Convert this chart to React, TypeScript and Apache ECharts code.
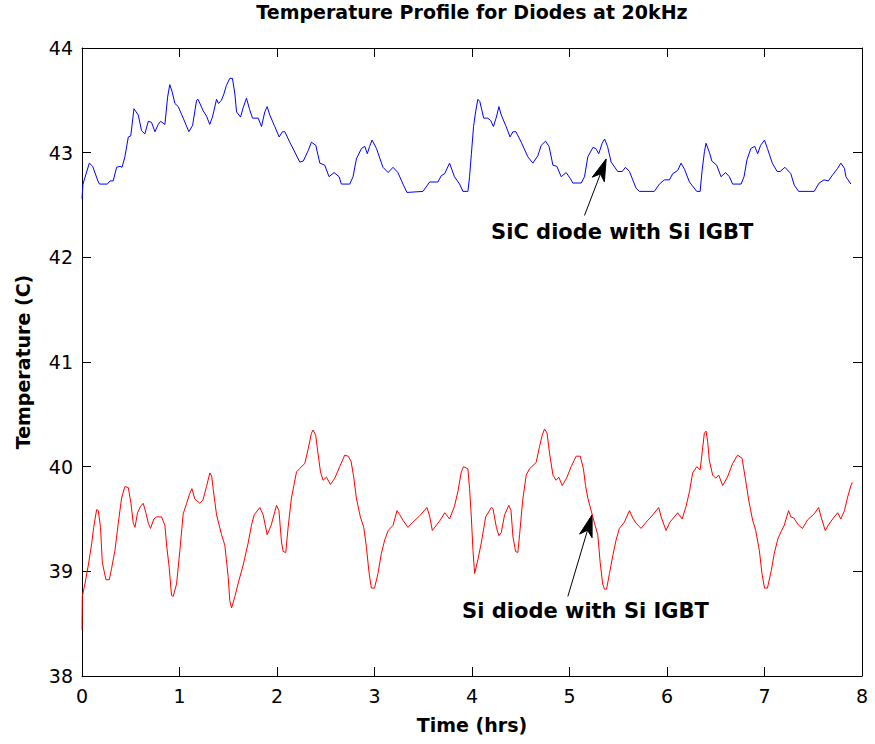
import React, { useEffect, useRef } from "react";
import * as echarts from "echarts";

const chartTitle = "Temperature Profile for Diodes at 20kHz";
const xAxisName = "Time (hrs)";
const yAxisName = "Temperature (C)";
const xMin = 0, xMax = 8, xStep = 1;
const yMin = 38, yMax = 44, yStep = 1;

const sicLabel = "SiC diode with Si IGBT";
const siLabel = "Si diode with Si IGBT";

// SiC diode (blue) series
const sicTime = [
  0, 0.01, 0.075, 0.109, 0.167, 0.18, 0.26, 0.287, 0.32, 0.355, 0.39, 0.41, 0.44, 0.475, 0.5, 0.533, 0.577, 0.611,
  0.645, 0.68, 0.713, 0.748, 0.782, 0.806, 0.85, 0.878, 0.9, 0.925, 0.953, 0.987, 1.038, 1.096, 1.134, 1.175, 1.19,
  1.243, 1.277, 1.31, 1.338, 1.38, 1.4, 1.43, 1.455, 1.48, 1.516, 1.543, 1.568, 1.585, 1.626, 1.653, 1.687, 1.72,
  1.749, 1.807, 1.841, 1.875, 1.899, 1.926, 1.977, 2.022, 2.056, 2.08, 2.131, 2.234, 2.27, 2.32, 2.353, 2.398, 2.439,
  2.49, 2.534, 2.585, 2.637, 2.66, 2.746, 2.78, 2.814, 2.866, 2.9, 2.926, 2.95, 2.975, 3.02, 3.087, 3.14, 3.19, 3.24,
  3.292, 3.333, 3.497, 3.566, 3.65, 3.685, 3.72, 3.77, 3.82, 3.873, 3.907, 3.958, 3.975, 3.993, 4.016, 4.037, 4.06,
  4.08, 4.12, 4.16, 4.19, 4.22, 4.25, 4.276, 4.3, 4.35, 4.39, 4.42, 4.45, 4.505, 4.573, 4.624, 4.675, 4.71, 4.754,
  4.79, 4.83, 4.87, 4.915, 4.966, 5.01, 5.034, 5.12, 5.154, 5.188, 5.24, 5.27, 5.3, 5.335, 5.36, 5.39, 5.427, 5.495,
  5.54, 5.574, 5.615, 5.649, 5.683, 5.717, 5.87, 5.922, 5.973, 6.025, 6.059, 6.11, 6.144, 6.18, 6.23, 6.305, 6.34,
  6.36, 6.384, 6.4, 6.436, 6.46, 6.51, 6.554, 6.6, 6.64, 6.673, 6.76, 6.79, 6.82, 6.86, 6.9, 6.93, 6.96, 7.0, 7.03,
  7.08, 7.13, 7.16, 7.21, 7.27, 7.305, 7.35, 7.51, 7.56, 7.61, 7.655, 7.7, 7.75, 7.783, 7.82, 7.835, 7.886,
];
const sicTemp = [
  42.56, 42.7, 42.9, 42.87, 42.72, 42.7, 42.7, 42.73, 42.73, 42.86, 42.87, 42.86, 42.96, 43.15, 43.16, 43.42, 43.36, 43.21,
  43.18, 43.3, 43.29, 43.2, 43.27, 43.3, 43.27, 43.53, 43.65, 43.58, 43.47, 43.44, 43.33, 43.2, 43.26, 43.5, 43.51,
  43.4, 43.35, 43.27, 43.34, 43.51, 43.47, 43.5, 43.56, 43.64, 43.71, 43.71, 43.56, 43.39, 43.34, 43.43, 43.52, 43.41,
  43.33, 43.33, 43.25, 43.39, 43.44, 43.36, 43.25, 43.15, 43.2, 43.2, 43.1, 42.91, 42.92, 43.02, 43.1, 43.07, 42.9,
  42.88, 42.77, 42.81, 42.77, 42.7, 42.7, 42.77, 42.94, 43.04, 43.06, 42.99, 43.06, 43.12, 43.04, 42.86, 42.81, 42.86, 42.81,
  42.7, 42.62, 42.63, 42.72, 42.72, 42.78, 42.8, 42.9, 42.77, 42.7, 42.63, 42.63, 42.77, 42.98, 43.25, 43.39, 43.51,
  43.49, 43.33, 43.33, 43.31, 43.25, 43.34, 43.44, 43.36, 43.25, 43.15, 43.2, 43.2, 43.1, 42.96, 42.9, 42.97, 43.07, 43.11,
  43.06, 42.88, 42.87, 42.77, 42.81, 42.75, 42.71, 42.71, 42.77, 42.96, 43.05, 43.04, 42.99, 43.09, 43.13, 43.06, 42.91, 42.82,
  42.82, 42.86, 42.82, 42.74, 42.66, 42.63, 42.63, 42.7, 42.74, 42.74, 42.8, 42.83, 42.9, 42.84, 42.72, 42.63, 42.63,
  42.83, 43.01, 43.09, 43.0, 42.92, 42.88, 42.77, 42.81, 42.77, 42.7, 42.7, 42.77, 42.93, 43.04, 43.06, 42.99, 43.07, 43.12, 43.04,
  42.9, 42.82, 42.82, 42.86, 42.8, 42.69, 42.63, 42.63, 42.71, 42.74, 42.73, 42.79, 42.85, 42.9, 42.85, 42.77, 42.7,
];

// Si diode (red) series
const siTime = [
  0, 0.003, 0.03, 0.065, 0.1, 0.12, 0.15, 0.167, 0.19, 0.208, 0.236, 0.246, 0.28, 0.304, 0.338, 0.372, 0.406, 0.44,
  0.475, 0.502, 0.526, 0.543, 0.57, 0.6, 0.628, 0.655, 0.68, 0.703, 0.737, 0.765, 0.816, 0.85, 0.87, 0.894, 0.918,
  0.935, 0.97, 1.004, 1.038, 1.073, 1.1, 1.127, 1.158, 1.209, 1.24, 1.277, 1.311, 1.33, 1.345, 1.38, 1.431, 1.465,
  1.499, 1.516, 1.534, 1.568, 1.6, 1.653, 1.704, 1.738, 1.766, 1.824, 1.858, 1.899, 1.94, 1.995, 2.02, 2.046, 2.063,
  2.09, 2.114, 2.148, 2.2, 2.23, 2.285, 2.32, 2.353, 2.37, 2.397, 2.42, 2.446, 2.473, 2.507, 2.548, 2.593, 2.643,
  2.695, 2.73, 2.76, 2.787, 2.814, 2.855, 2.89, 2.917, 2.945, 2.968, 3.0, 3.036, 3.07, 3.105, 3.14, 3.19, 3.231, 3.26,
  3.29, 3.343, 3.394, 3.463, 3.538, 3.565, 3.593, 3.634, 3.675, 3.72, 3.77, 3.82, 3.855, 3.89, 3.913, 3.958, 3.975,
  3.993, 4.01, 4.027, 4.06, 4.095, 4.14, 4.198, 4.215, 4.25, 4.276, 4.3, 4.334, 4.378, 4.4, 4.42, 4.447, 4.47, 4.488,
  4.52, 4.556, 4.59, 4.658, 4.692, 4.72, 4.744, 4.77, 4.795, 4.83, 4.863, 4.89, 4.925, 4.97, 5.017, 5.068, 5.11, 5.143,
  5.164, 5.188, 5.222, 5.256, 5.29, 5.315, 5.34, 5.358, 5.38, 5.41, 5.444, 5.478, 5.512, 5.563, 5.615, 5.649, 5.683,
  5.734, 5.786, 5.837, 5.915, 5.94, 5.99, 6.03, 6.075, 6.11, 6.155, 6.195, 6.23, 6.263, 6.305, 6.34, 6.36, 6.383, 6.4,
  6.417, 6.434, 6.468, 6.5, 6.53, 6.571, 6.62, 6.673, 6.724, 6.77, 6.803, 6.838, 6.878, 6.91, 6.947, 6.974, 7.0, 7.03,
  7.07, 7.1, 7.137, 7.17, 7.203, 7.247, 7.27, 7.3, 7.35, 7.39, 7.44, 7.51, 7.555, 7.58, 7.623, 7.66, 7.715, 7.75,
  7.783, 7.82, 7.85, 7.886, 7.9,
];
const siTemp = [
  38.44, 38.76, 38.88, 39.06, 39.27, 39.42, 39.59, 39.58, 39.42, 39.09, 38.96, 38.92, 38.92, 39.03, 39.2, 39.46, 39.7, 39.81,
  39.8, 39.65, 39.46, 39.42, 39.56, 39.62, 39.65, 39.56, 39.46, 39.41, 39.5, 39.52, 39.52, 39.44, 39.23, 39.04, 38.77,
  38.76, 38.88, 39.2, 39.55, 39.65, 39.73, 39.79, 39.69, 39.65, 39.68, 39.81, 39.94, 39.91, 39.79, 39.54, 39.35, 39.25,
  38.95, 38.72, 38.65, 38.76, 38.88, 39.06, 39.27, 39.44, 39.54, 39.61, 39.54, 39.35, 39.44, 39.63, 39.58, 39.28, 39.19,
  39.18, 39.42, 39.7, 39.95, 39.98, 40.03, 40.17, 40.32, 40.35, 40.3, 40.13, 39.95, 39.87, 39.9, 39.83, 39.89, 40.0,
  40.11, 40.1, 40.05, 39.9, 39.7, 39.52, 39.42, 39.23, 38.98, 38.84, 38.84, 38.98, 39.17, 39.3, 39.39, 39.44, 39.58, 39.54,
  39.49, 39.42, 39.47, 39.53, 39.61, 39.53, 39.39, 39.44, 39.49, 39.56, 39.5, 39.62, 39.76, 39.95, 40.0, 39.98, 39.79,
  39.52, 39.2, 38.98, 39.11, 39.27, 39.52, 39.61, 39.6, 39.42, 39.34, 39.37, 39.54, 39.63, 39.58, 39.33, 39.19, 39.18, 39.35,
  39.68, 39.92, 39.98, 40.04, 40.19, 40.3, 40.36, 40.32, 40.13, 39.92, 39.87, 39.9, 39.82, 39.89, 40.0, 40.1, 40.1, 39.98,
  39.82, 39.7, 39.58, 39.46, 39.35, 39.08, 38.88, 38.83, 38.83, 38.98, 39.15, 39.3, 39.41, 39.47, 39.58, 39.51, 39.46,
  39.41, 39.47, 39.52, 39.61, 39.52, 39.39, 39.47, 39.52, 39.56, 39.5, 39.62, 39.76, 39.94, 40.0, 39.97, 40.13, 40.32, 40.34,
  40.24, 40.06, 39.92, 39.89, 39.92, 39.82, 39.9, 40.03, 40.11, 40.08, 39.89, 39.68, 39.49, 39.39, 39.2, 38.98, 38.84, 38.84,
  39.01, 39.17, 39.31, 39.38, 39.44, 39.58, 39.52, 39.51, 39.44, 39.41, 39.49, 39.55, 39.61, 39.52, 39.39, 39.45, 39.52, 39.56,
  39.5, 39.58, 39.7, 39.82, 39.85,
];

// Annotation anchors in data coordinates: [textX, textY, arrowTailX, arrowTailY, arrowTipX, arrowTipY]
const sicNote = [5.54, 42.24, 5.154, 42.4, 5.376, 42.94];
const siNote = [5.164, 38.62, 4.983, 38.76, 5.232, 39.54];

const FONT = "'DejaVu Sans', Verdana, sans-serif";

function pairs(xs: number[], ys: number[]) {
  return xs.map((x, i) => [x, ys[i]]);
}

function arrowGraphic(tail: number[], tip: number[]) {
  const dx = tip[0] - tail[0];
  const dy = tip[1] - tail[1];
  const len = Math.sqrt(dx * dx + dy * dy);
  const ux = dx / len, uy = dy / len;
  const px = -uy, py = ux;
  const headLen = 22, headHalf = 6.5, notch = 16;
  const base = [tip[0] - ux * headLen, tip[1] - uy * headLen];
  const back = [tip[0] - ux * notch, tip[1] - uy * notch];
  return [
    {
      type: "line",
      shape: { x1: tail[0], y1: tail[1], x2: back[0], y2: back[1] },
      style: { stroke: "#000", lineWidth: 1 },
      silent: true,
    },
    {
      type: "polygon",
      shape: {
        points: [
          tip,
          [base[0] + px * headHalf, base[1] + py * headHalf],
          back,
          [base[0] - px * headHalf, base[1] - py * headHalf],
        ],
      },
      style: { fill: "#000", stroke: "#000", lineWidth: 1 },
      silent: true,
    },
  ];
}

export default function App() {
  const ref = useRef<HTMLDivElement>(null);
  useEffect(() => {
    if (!ref.current) return;
    const chart = echarts.init(ref.current, null, { renderer: "svg" });
    const axisCommon = {
      axisLine: { show: true, onZero: false, lineStyle: { color: "#000", width: 1 } },
      axisTick: { show: true, inside: true, length: 9, lineStyle: { color: "#000", width: 1 } },
      splitLine: { show: false },
    };
    const option: any = {
      animation: false,
      backgroundColor: "#fff",
      grid: { left: 82, right: 13, top: 48, bottom: 68, containLabel: false },
      xAxis: [
        {
          ...axisCommon,
          type: "value",
          position: "bottom",
          min: xMin,
          max: xMax,
          interval: xStep,
          name: xAxisName,
          nameLocation: "middle",
          nameGap: 39,
          nameTextStyle: { fontFamily: FONT, fontSize: 19, fontWeight: "bold", color: "#000" },
          axisLabel: { fontFamily: FONT, fontSize: 19, color: "#000", margin: 10 },
        },
        {
          ...axisCommon,
          type: "value",
          position: "top",
          min: xMin,
          max: xMax,
          interval: xStep,
          axisLabel: { show: false },
        },
      ],
      yAxis: [
        {
          ...axisCommon,
          type: "value",
          position: "left",
          min: yMin,
          max: yMax,
          interval: yStep,
          name: yAxisName,
          nameLocation: "middle",
          nameGap: 50,
          nameTextStyle: { fontFamily: FONT, fontSize: 19, fontWeight: "bold", color: "#000" },
          axisLabel: { fontFamily: FONT, fontSize: 19, color: "#000", margin: 9 },
        },
        {
          ...axisCommon,
          type: "value",
          position: "right",
          min: yMin,
          max: yMax,
          interval: yStep,
          axisLabel: { show: false },
        },
      ],
      series: [
        {
          name: sicLabel,
          type: "line",
          data: pairs(sicTime, sicTemp),
          showSymbol: false,
          lineStyle: { color: "#0000ff", width: 1 },
          itemStyle: { color: "#0000ff" },
          z: 3,
        },
        {
          name: siLabel,
          type: "line",
          data: pairs(siTime, siTemp),
          showSymbol: false,
          lineStyle: { color: "#ff0000", width: 1 },
          itemStyle: { color: "#ff0000" },
          z: 3,
        },
      ],
    };
    chart.setOption(option);

    const toPx = (x: number, y: number) => chart.convertToPixel({ gridIndex: 0 }, [x, y]) as number[];
    const leftTop = toPx(xMin, yMax);
    const rightTop = toPx(xMax, yMax);
    const noteGraphics = (note: number[], label: string) => {
      const t = toPx(note[0], note[1]);
      const tail = toPx(note[2], note[3]);
      const tip = toPx(note[4], note[5]);
      return [
        ...arrowGraphic(tail, tip),
        {
          type: "text",
          x: t[0],
          y: t[1],
          style: {
            text: label,
            fontFamily: FONT,
            fontSize: 21,
            fontWeight: "bold",
            fill: "#000",
            align: "center",
            verticalAlign: "middle",
          },
          silent: true,
        },
      ];
    };
    chart.setOption({
      graphic: [
        {
          type: "text",
          x: (leftTop[0] + rightTop[0]) / 2,
          y: 12,
          style: {
            text: chartTitle,
            fontFamily: FONT,
            fontSize: 19,
            fontWeight: "bold",
            fill: "#000",
            align: "center",
            verticalAlign: "middle",
          },
          silent: true,
        },
        ...noteGraphics(sicNote, sicLabel),
        ...noteGraphics(siNote, siLabel),
      ],
    });
    return () => chart.dispose();
  }, []);
  return (
    <div
      ref={ref}
      style={{ position: "fixed", left: 0, top: 0, width: 875, height: 744, background: "#fff" }}
    />
  );
}
